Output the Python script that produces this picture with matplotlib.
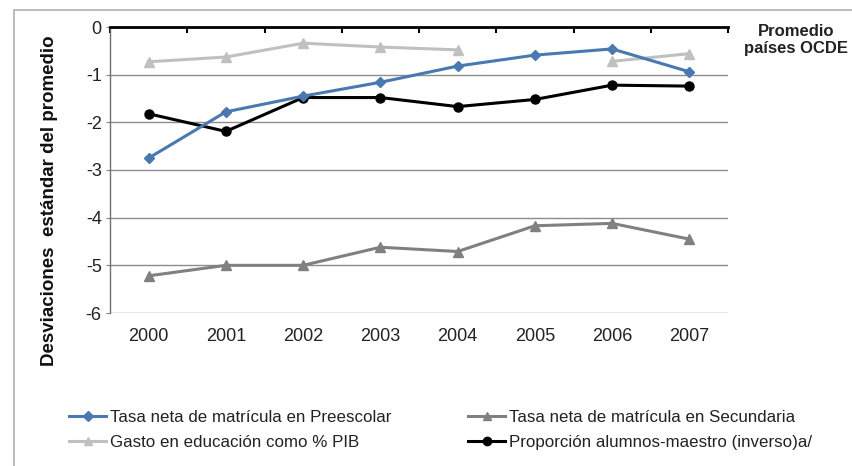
import matplotlib
matplotlib.use("Agg")
import matplotlib.pyplot as plt
from matplotlib.lines import Line2D
from matplotlib.patches import Rectangle
import numpy as np

years = ["2000", "2001", "2002", "2003", "2004", "2005", "2006", "2007"]
preescolar = [-2.75, -1.78, -1.45, -1.16, -0.82, -0.59, -0.46, -0.94]
secundaria = [-5.22, -5.0, -5.0, -4.62, -4.71, -4.17, -4.12, -4.45]
gasto = [-0.73, -0.63, -0.34, -0.42, -0.48, np.nan, -0.72, -0.56]
proporcion = [-1.82, -2.19, -1.48, -1.48, -1.67, -1.52, -1.22, -1.24]

labels = ["Tasa neta de matrícula en Preescolar",
          "Tasa neta de matrícula en Secundaria",
          "Gasto en educación como % PIB",
          "Proporción alumnos-maestro (inverso)a/"]
ylabel = "Desviaciones  estándar del promedio"
note = "Promedio\npaíses OCDE"

plt.rcParams['font.family'] = ['Liberation Sans', 'DejaVu Sans']

fig = plt.figure(figsize=(8.52, 4.66), dpi=100)
fig.patches.append(Rectangle((14/852, -0.1), 1.0, 1 - 10/466 + 0.1,
                             transform=fig.transFigure, fill=False,
                             edgecolor="#b0b0b0", linewidth=1.2))

ax = fig.add_axes([110/852, 1 - 313/466, (728 - 110)/852, (313 - 27)/466])
x = np.arange(len(years))

c_blue = "#4a78b0"
c_sec = "#808080"
c_gasto = "#c0c0c0"
c_black = "#000000"

ax.plot(x, gasto, color=c_gasto, marker="^", markersize=7, linewidth=2.2)
ax.plot(x, secundaria, color=c_sec, marker="^", markersize=7, linewidth=2.2)
ax.plot(x, proporcion, color=c_black, marker="o", markersize=6.5, linewidth=2.2)
ax.plot(x, preescolar, color=c_blue, marker="D", markersize=5.5, linewidth=2.2)

ax.set_xlim(-0.5, len(years) - 0.5)
ax.set_ylim(-6, 0)
ax.set_yticks(range(-6, 1))
ax.set_yticklabels([str(v) for v in range(-6, 1)])
ax.set_xticks(x)
ax.set_xticklabels(years)
ax.tick_params(axis="x", length=0, pad=11, labelsize=13, labelcolor="#222222")
ax.tick_params(axis="y", length=3, color="#808080", labelsize=13, labelcolor="#222222", pad=3)
ax.set_xticks(np.arange(-0.5, len(years)), minor=True)
ax.tick_params(axis="x", which="minor", top=True, bottom=False, direction="in",
               length=4, width=1.5, color="black")

for v in range(-6, 0):
    ax.axhline(v, color="#8c8c8c", linewidth=1, zorder=0)
for s in ["right", "bottom"]:
    ax.spines[s].set_visible(False)
ax.spines["top"].set_color("black")
ax.spines["top"].set_linewidth(2)
ax.spines["left"].set_color("#707070")
ax.spines["left"].set_linewidth(1)

fig.text(50/852, 1 - 201/466, ylabel, rotation=90, ha="center", va="center",
         fontsize=13.5, fontweight="bold", color="#111111")
fig.text(796/852, 1 - 40/466, note, ha="center", va="center", fontsize=12,
         fontweight="bold", color="#222222", linespacing=1.15)

handles = [
    Line2D([], [], color=c_blue, marker="D", markersize=5, linewidth=2.2),
    Line2D([], [], color=c_gasto, marker="^", markersize=6, linewidth=2.2),
    Line2D([], [], color=c_sec, marker="^", markersize=6, linewidth=2.2),
    Line2D([], [], color=c_black, marker="o", markersize=6, linewidth=2.2),
]
leg_prop = {"family": ["Liberation Sans"], "size": 12.2}
common = dict(loc="center left", frameon=False, prop=leg_prop, borderpad=0,
              borderaxespad=0, handlelength=2.2, handletextpad=0.2,
              labelspacing=0.62, labelcolor="#222222")
fig.legend(handles[:2], [labels[0], labels[2]],
           bbox_to_anchor=(69/852, 1 - 430/466), **common)
fig.legend(handles[2:], [labels[1], labels[3]],
           bbox_to_anchor=(468/852, 1 - 430/466), **common)

fig.savefig("out.png", dpi=100)
